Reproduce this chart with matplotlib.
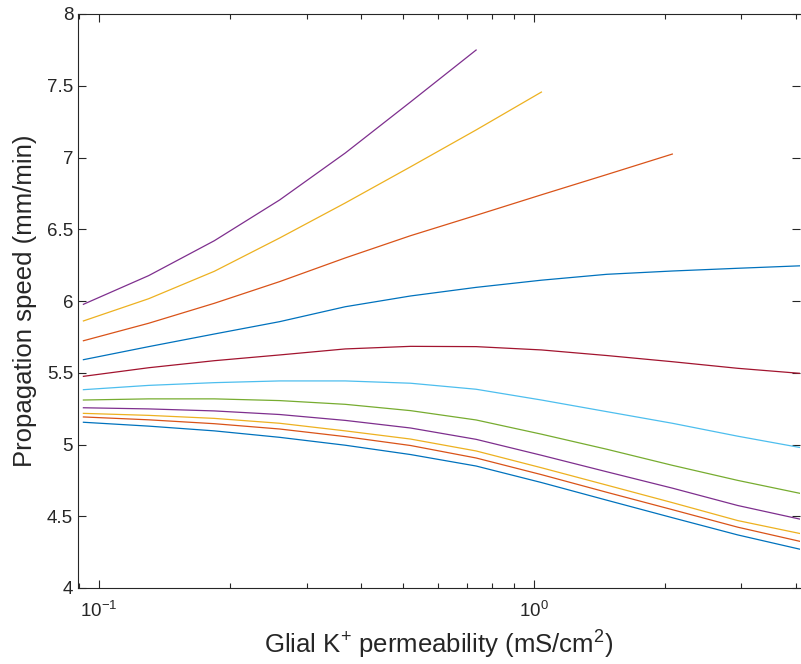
import numpy as np
import matplotlib
matplotlib.use('Agg')
import matplotlib.pyplot as plt
from matplotlib.ticker import LogLocator, NullFormatter, FixedLocator

plt.rcParams['font.family'] = ['Liberation Sans', 'DejaVu Sans']
plt.rcParams['mathtext.fontset'] = 'custom'
plt.rcParams['mathtext.rm'] = 'Liberation Sans'
plt.rcParams['mathtext.default'] = 'regular'

# glial K+ permeability values (mS/cm^2)
perm = [0.092, 0.13, 0.184, 0.26, 0.368, 0.52, 0.736, 1.04, 1.47, 2.08, 2.94, 4.16]

# propagation speed (mm/min), bottom curve first
speed_0 = [5.155, 5.128, 5.095, 5.050, 4.995, 4.930, 4.850, 4.735, 4.612, 4.490, 4.370, 4.265]
speed_1 = [5.192, 5.172, 5.145, 5.108, 5.055, 4.993, 4.906, 4.790, 4.667, 4.546, 4.424, 4.320]
speed_2 = [5.217, 5.203, 5.182, 5.148, 5.095, 5.038, 4.955, 4.838, 4.717, 4.595, 4.470, 4.375]
speed_3 = [5.256, 5.248, 5.234, 5.209, 5.168, 5.115, 5.036, 4.925, 4.810, 4.696, 4.575, 4.475]
speed_4 = [5.310, 5.318, 5.318, 5.306, 5.280, 5.236, 5.171, 5.072, 4.967, 4.855, 4.750, 4.655]
speed_5 = [5.382, 5.412, 5.431, 5.443, 5.443, 5.427, 5.385, 5.310, 5.229, 5.148, 5.058, 4.975]
speed_6 = [5.475, 5.535, 5.584, 5.624, 5.666, 5.684, 5.682, 5.659, 5.620, 5.577, 5.531, 5.494]
speed_7 = [5.591, 5.682, 5.770, 5.856, 5.960, 6.035, 6.095, 6.145, 6.186, 6.209, 6.228, 6.246]
speed_8 = [5.723, 5.845, 5.984, 6.135, 6.300, 6.455, 6.597, 6.740, 6.881, 7.024]
speed_9 = [5.861, 6.016, 6.207, 6.439, 6.683, 6.935, 7.192, 7.456]
speed_10 = [5.977, 6.177, 6.420, 6.704, 7.031, 7.387, 7.749]

curves = [speed_0, speed_1, speed_2, speed_3, speed_4, speed_5,
          speed_6, speed_7, speed_8, speed_9, speed_10]

# matlab default color order
colors = ['#0072BD', '#D95319', '#EDB120', '#7E2F8E', '#77AC30', '#4DBEEE', '#A2142F']

fig = plt.figure(figsize=(8.01, 6.64), dpi=100)
ax = fig.add_axes([78/801, 76/664, 722/801, 574/664])

for i, s in enumerate(curves):
    ax.plot(perm[:len(s)], s, color=colors[i % len(colors)], lw=0.9)

ax.set_xscale('log')
ax.set_xlim(0.0894, 4.09)
ax.set_ylim(4, 8)
ax.set_yticks(np.arange(4, 8.01, 0.5))
ax.set_yticklabels(['4', '4.5', '5', '5.5', '6', '6.5', '7', '7.5', '8'])
ax.xaxis.set_major_locator(FixedLocator([0.1, 1]))
ax.xaxis.set_minor_locator(LogLocator(base=10, subs=np.arange(2, 10)))
ax.xaxis.set_minor_formatter(NullFormatter())

tc = '#262626'
for side in ['left', 'bottom', 'top']:
    ax.spines[side].set_color(tc)
    ax.spines[side].set_linewidth(0.8)
ax.spines['right'].set_visible(False)
ax.tick_params(which='both', direction='in', top=True, right=True,
               colors=tc, labelsize=13.5, width=0.8)
ax.tick_params(which='major', length=6)
ax.tick_params(which='minor', length=3.5)
ax.tick_params(axis='x', pad=9)

ax.set_xlabel('Glial K$^{+}$ permeability (mS/cm$^{2}$)', fontsize=18.5, color=tc, labelpad=6)
ax.set_ylabel('Propagation speed (mm/min)', fontsize=18.5, color=tc, labelpad=7)

fig.savefig('out.png', dpi=100)
